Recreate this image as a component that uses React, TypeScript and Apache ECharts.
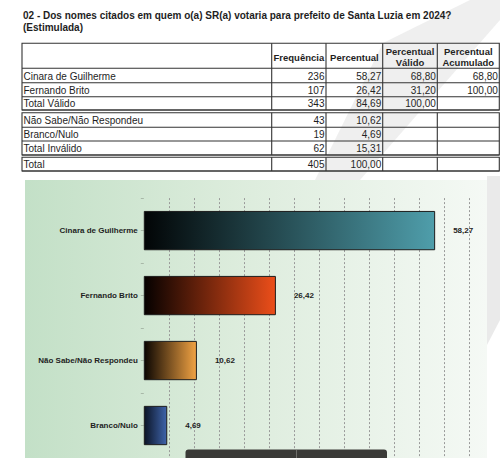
import React, { useEffect, useRef } from 'react';
import * as echarts from 'echarts';

// ---------- data ----------
const titleLine1 = '02 - Dos nomes citados em quem o(a) SR(a) votaria para prefeito de Santa Luzia em 2024?';
const titleLine2 = '(Estimulada)';
const tableHeaders = ['Frequência', 'Percentual', 'Percentual\nVálido', 'Percentual\nAcumulado'];
const rowLabels = [
  'Cinara de Guilherme',
  'Fernando Brito',
  'Total Válido',
  'Não Sabe/Não Respondeu',
  'Branco/Nulo',
  'Total Inválido',
  'Total',
];
const frequencies = [236, 107, 343, 43, 19, 62, 405];
const percents = [58.27, 26.42, 84.69, 10.62, 4.69, 15.31, 100.0];
const validPercents: (number | null)[] = [68.8, 31.2, 100.0, null, null, null, null];
const cumulativePercents: (number | null)[] = [68.8, 100.0, null, null, null, null, null];

const categories = ['Cinara de Guilherme', 'Fernando Brito', 'Não Sabe/Não Respondeu', 'Branco/Nulo'];
const values = [58.27, 26.42, 10.62, 4.69];
const xTicksStep = 5;
const xMax = 65;

// ---------- styles / layout ----------
const barColors: [string, string][] = [
  ['#020506', '#4f9eab'],
  ['#050100', '#ec4e1a'],
  ['#0a0502', '#f2a343'],
  ['#0b1426', '#3f64ab'],
];
const FONT = "'Liberation Sans', Arial, Helvetica, sans-serif";
const colX = [22, 271.7, 326, 382.7, 437.3, 499.3];
const rowEdges: [number, number][] = [
  [68.3, 82.7],
  [82.7, 96.7],
  [96.7, 110],
  [112.7, 127.3],
  [127.3, 141],
  [141, 155],
  [157.3, 171],
];
const blocks: [number, number][] = [
  [43.3, 110],
  [112.7, 155],
  [157.3, 171],
];
const headerBottom = 68.3;

const fmt = (v: number | null) => (v == null ? '' : v.toFixed(2).replace('.', ','));

function buildGraphics(): any[] {
  const els: any[] = [];
  const txt = (x: number, y: number, text: string, font: string, align: string, extra: any = {}) => ({
    type: 'text',
    x,
    y,
    silent: true,
    style: {
      text,
      font,
      fill: '#1e1e1e',
      textAlign: align,
      textVerticalAlign: 'middle',
      align,
      verticalAlign: 'middle',
      ...extra,
    },
  });

  // page title
  els.push(txt(23, 15, titleLine1, `bold 10px ${FONT}`, 'left'));
  els.push(txt(23, 27.3, titleLine2, `bold 10px ${FONT}`, 'left'));

  // chart panel background
  els.push({
    type: 'rect',
    z: -5,
    silent: true,
    shape: { x: 25, y: 180, width: 462, height: 290 },
    style: {
      fill: new echarts.graphic.LinearGradient(0, 0, 1, 0, [
        { offset: 0, color: '#c3e0c7' },
        { offset: 0.45, color: '#dcecdc' },
        { offset: 1, color: '#f5f9f5' },
      ]),
    },
  });

  // table lines
  const lineStyle = { stroke: '#333333', lineWidth: 1.1 };
  blocks.forEach(([t, b]) => {
    els.push({
      type: 'rect',
      silent: true,
      shape: { x: colX[0], y: t, width: colX[5] - colX[0], height: b - t },
      style: { fill: 'none', ...lineStyle },
    });
    for (let i = 1; i < colX.length - 1; i++) {
      els.push({ type: 'line', silent: true, shape: { x1: colX[i], y1: t, x2: colX[i], y2: b }, style: lineStyle });
    }
  });
  const hLines = [headerBottom, ...rowEdges.map((r) => r[1])];
  hLines.forEach((y) => {
    els.push({ type: 'line', silent: true, shape: { x1: colX[0], y1: y, x2: colX[5], y2: y }, style: lineStyle });
  });

  // header texts
  tableHeaders.forEach((h, i) => {
    const cx = (colX[i + 1] + colX[i + 2]) / 2;
    els.push(txt(cx, 57, h, `bold 9.5px ${FONT}`, 'center', { lineHeight: 10.6 }));
  });

  // body texts
  rowLabels.forEach((label, r) => {
    const cy = (rowEdges[r][0] + rowEdges[r][1]) / 2 + 0.6;
    const f = `10px ${FONT}`;
    els.push(txt(colX[0] + 1.5, cy, label, f, 'left'));
    els.push(txt(colX[2] - 1.5, cy, String(frequencies[r]), f, 'right'));
    els.push(txt(colX[3] - 1.5, cy, fmt(percents[r]), f, 'right'));
    if (validPercents[r] != null) els.push(txt(colX[4] - 1.5, cy, fmt(validPercents[r]), f, 'right'));
    if (cumulativePercents[r] != null) els.push(txt(colX[5] - 1.5, cy, fmt(cumulativePercents[r]), f, 'right'));
  });

  // dark box cut off at bottom
  els.push({
    type: 'rect',
    z: 50,
    silent: true,
    shape: { x: 185.5, y: 449.5, width: 201.5, height: 20, r: [3, 3, 0, 0] },
    style: { fill: '#3a3a37' },
  });
  els.push({
    type: 'line',
    z: 51,
    silent: true,
    shape: { x1: 296.5, y1: 450, x2: 296.5, y2: 460 },
    style: { stroke: '#6e6e6a', lineWidth: 1 },
  });

  // watermark shapes
  els.push({
    type: 'polygon',
    z: 100,
    silent: true,
    shape: { points: [[315, 180], [360, 180], [500, 20], [500, 0], [470, 0], [383, 43]] },
    style: { fill: 'rgba(80,80,80,0.09)' },
  });
  els.push({
    type: 'polygon',
    z: 100,
    silent: true,
    shape: { points: [[487, 176], [500, 176], [500, 320], [487, 345]] },
    style: { fill: 'rgba(80,80,80,0.12)' },
  });
  return els;
}

export default function App() {
  const ref = useRef<HTMLDivElement>(null);
  useEffect(() => {
    if (!ref.current) return;
    const chart = echarts.init(ref.current, null, { renderer: 'svg' });
    const labelFont = { fontFamily: FONT, fontWeight: 'bold' as const, fontSize: 8, color: '#1e1e1e' };
    chart.setOption({
      animation: false,
      backgroundColor: '#ffffff',
      graphic: { elements: buildGraphics() },
      grid: { left: 143.8, top: 198.1, width: 325, height: 267.2, containLabel: false },
      xAxis: {
        type: 'value',
        min: 0,
        max: xMax,
        interval: xTicksStep,
        axisLabel: { show: false },
        axisLine: { show: false },
        axisTick: { show: false },
        splitLine: {
          show: true,
          showMinLine: false,
          lineStyle: { color: '#9a9a9a', type: [2, 2], width: 1 },
        },
      },
      yAxis: [
        {
          type: 'category',
          inverse: true,
          data: categories,
          axisLine: { show: false },
          axisTick: { show: true, length: 3, lineStyle: { color: '#a8b8a8' } },
          axisLabel: { ...labelFont, margin: 6 },
        },
        {
          type: 'category',
          inverse: true,
          position: 'left',
          data: categories,
          axisLine: { show: false },
          axisTick: { show: true, alignWithLabel: true, length: 3, lineStyle: { color: '#a8b8a8' } },
          axisLabel: { show: false },
        },
      ],
      series: [
        {
          type: 'bar',
          yAxisIndex: 0,
          barWidth: 39.3,
          data: values.map((v, i) => ({
            value: v,
            itemStyle: {
              color: new echarts.graphic.LinearGradient(0, 0, 1, 0, [
                { offset: 0, color: barColors[i][0] },
                { offset: 1, color: barColors[i][1] },
              ]),
              borderColor: '#1c1c1c',
              borderWidth: 1,
            },
          })),
          label: {
            show: true,
            position: 'right',
            distance: 18,
            ...labelFont,
            formatter: (p: any) => fmt(p.value),
          },
        },
      ],
    });
    return () => chart.dispose();
  }, []);
  return (
    <div
      ref={ref}
      style={{ position: 'absolute', left: 0, top: 0, width: 500, height: 458, overflow: 'hidden' }}
    />
  );
}
